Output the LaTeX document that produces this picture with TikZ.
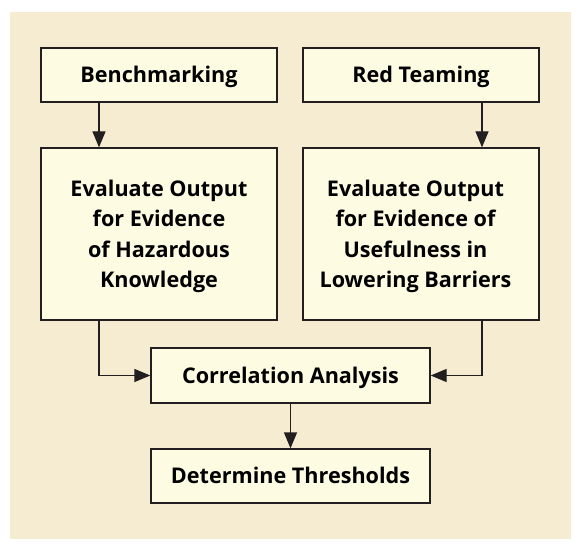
\documentclass[tikz,border=0pt]{standalone}
\usepackage{fontspec}
\setmainfont{Open Sans}
\usetikzlibrary{arrows.meta}
\definecolor{paper}{HTML}{F5ECD1}
\definecolor{cream}{HTML}{FEFBE3}
\definecolor{ink}{HTML}{231F20}
\newcommand\boxlines[1]{\raisebox{-1.8pt}[\height][\depth]{\begin{tabular}{@{}c@{}}#1\end{tabular}}}

\begin{document}
\begin{tikzpicture}[x=1pt, y=-1pt,
		procbox/.style={draw=ink, line width=1.3pt, fill=cream, inner sep=0pt,
			font=\fontsize{21.6}{30.5}\selectfont\bfseries},
		flow/.style={draw=ink, line width=1.3pt, -{Triangle[length=16pt, width=13pt]}}]
			%%%%% START %%%%%
			
			\useasboundingbox (0, 0) rectangle (579, 548);
			\fill[paper] (10, 12) rectangle (571, 539);
			
			\node[procbox, minimum width=236, minimum height=54] (bench) at (159, 75) {\boxlines{Benchmarking}};
			\node[procbox, minimum width=236, minimum height=54] (redteam) at (421, 75) {\boxlines{Red Teaming}};
			
			\node[procbox, minimum width=236, minimum height=172] (evalhaz) at (159, 234)
				{\boxlines{Evaluate Output\\for Evidence\\of Hazardous\\Knowledge}};
			\node[procbox, minimum width=236, minimum height=172] (evaluse) at (421, 234)
				{\boxlines{Evaluate Output\\for Evidence of\\Usefulness in\\Lowering Barriers}\kern11pt};
			
			\node[procbox, minimum width=279, minimum height=55] (corr) at (290.5, 375.5) {\boxlines{Correlation Analysis}};
			\node[procbox, minimum width=279, minimum height=54] (thresh) at (290.5, 476) {\boxlines{Determine Thresholds}};
			
			\draw[flow] ([xshift=-60]bench.south) -- ([xshift=-60]evalhaz.north);
			\draw[flow] ([xshift=61]redteam.south) -- ([xshift=61]evaluse.north);
			
			\draw[flow] ([xshift=-60]evalhaz.south) |- (corr.west);
			\draw[flow] ([xshift=61]evaluse.south) |- (corr.east);
			
			\draw[flow] (corr.south) -- (thresh.north);
			
			%%%%% END %%%%%
\end{tikzpicture}
\end{document}
